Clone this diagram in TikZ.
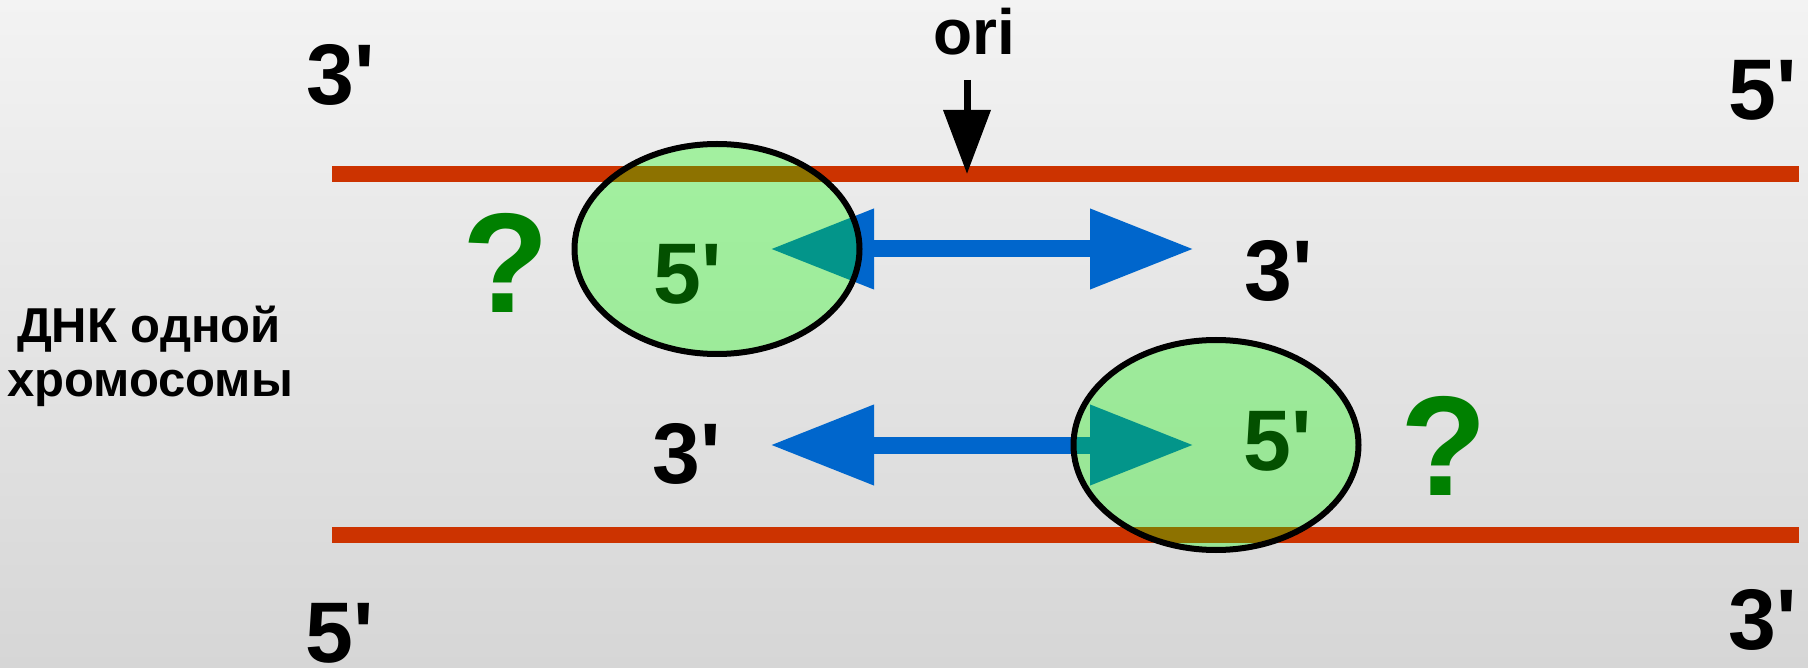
\documentclass[tikz,border=0pt]{standalone}
\usepackage{fontspec}
\setmainfont{Liberation Sans}[Ligatures=TeXOff]
\usetikzlibrary{arrows.meta,shapes.geometric}
\definecolor{dnared}{RGB}{204,51,0}
\definecolor{arrowblue}{RGB}{0,102,204}
\definecolor{bubblegreen}{RGB}{10,250,0}
\definecolor{qgreen}{RGB}{0,128,0}
\definecolor{bgtop}{RGB}{243,243,243}
\definecolor{bgbot}{RGB}{214,214,214}
\tikzset{
  lbl/.style={font=\fontsize{86}{90}\selectfont\bfseries, inner sep=0pt, anchor=base},
  qmark/.style={font=\fontsize{142}{150}\selectfont\bfseries, text=qgreen, inner sep=0pt, anchor=base},
  side/.style={font=\fontsize{49}{55}\selectfont\bfseries, inner sep=0pt, anchor=base},
  strand/.style={line width=16pt, draw=dnared},
  fork/.style={line width=17pt, draw=arrowblue, fill=arrowblue,
    {Triangle[length=104pt,width=76pt]}-{Triangle[length=104pt,width=76pt]}},
  oriarrow/.style={line width=7pt, draw=black, -{Triangle[length=64pt,width=46pt]}},
  bubble/.style={ellipse, draw=black, line width=6pt, fill=bubblegreen, fill opacity=0.32,
    minimum width=285pt, minimum height=210pt, inner sep=0pt}
}
\begin{document}
\begin{tikzpicture}[x=1pt,y=-1pt]
\shade[top color=bgtop, bottom color=bgbot] (0,0) rectangle (1808,668);
\useasboundingbox (0,0) rectangle (1808,668);
% strands
\coordinate (s1a) at (332,174); \coordinate (s1b) at (1799,174);
\coordinate (s2a) at (332,535); \coordinate (s2b) at (1799,535);
\draw[strand] (s1a) -- (s1b);
\draw[strand] (s2a) -- (s2b);
% replication forks
\coordinate (f1l) at (770,249); \coordinate (f1r) at (1194,249);
\coordinate (f2l) at (770,445); \coordinate (f2r) at (1194,445);
\draw[fork] (f1l) -- (f1r);
\draw[fork] (f2l) -- (f2r);
% ori
\node[font=\fontsize{64}{70}\selectfont\bfseries, inner sep=0pt, anchor=base] (ori) at (974,55) {ori};
\coordinate (oritop) at (967,80); \coordinate (oritip) at (967,174);
\draw[oriarrow] (oritop) -- (oritip);
% end labels
\node[lbl] (tl) at (341,105) {3'};
\node[lbl] (tr) at (1763,120) {5'};
\node[lbl] (bl) at (340,662) {5'};
\node[lbl] (br) at (1763,649) {3'};
\node[lbl] (m1) at (1279,301) {3'};
\node[lbl] (m2) at (687,483) {3'};
\node[lbl] (in1) at (688,304) {5'};
\node[lbl] (in2) at (1278,470) {5'};
% question marks
\node[qmark] (q1) at (506,313) {?};
\node[qmark] (q2) at (1444,495) {?};
% side label
\node[side] (lab1) at (149,343) {ДНК одной};
\node[side] (lab2) at (150,396) {хромосомы};
% bubbles
\node[bubble] (e1) at (717,249) {};
\node[bubble] (e2) at (1216,445) {};
\end{tikzpicture}
\end{document}
